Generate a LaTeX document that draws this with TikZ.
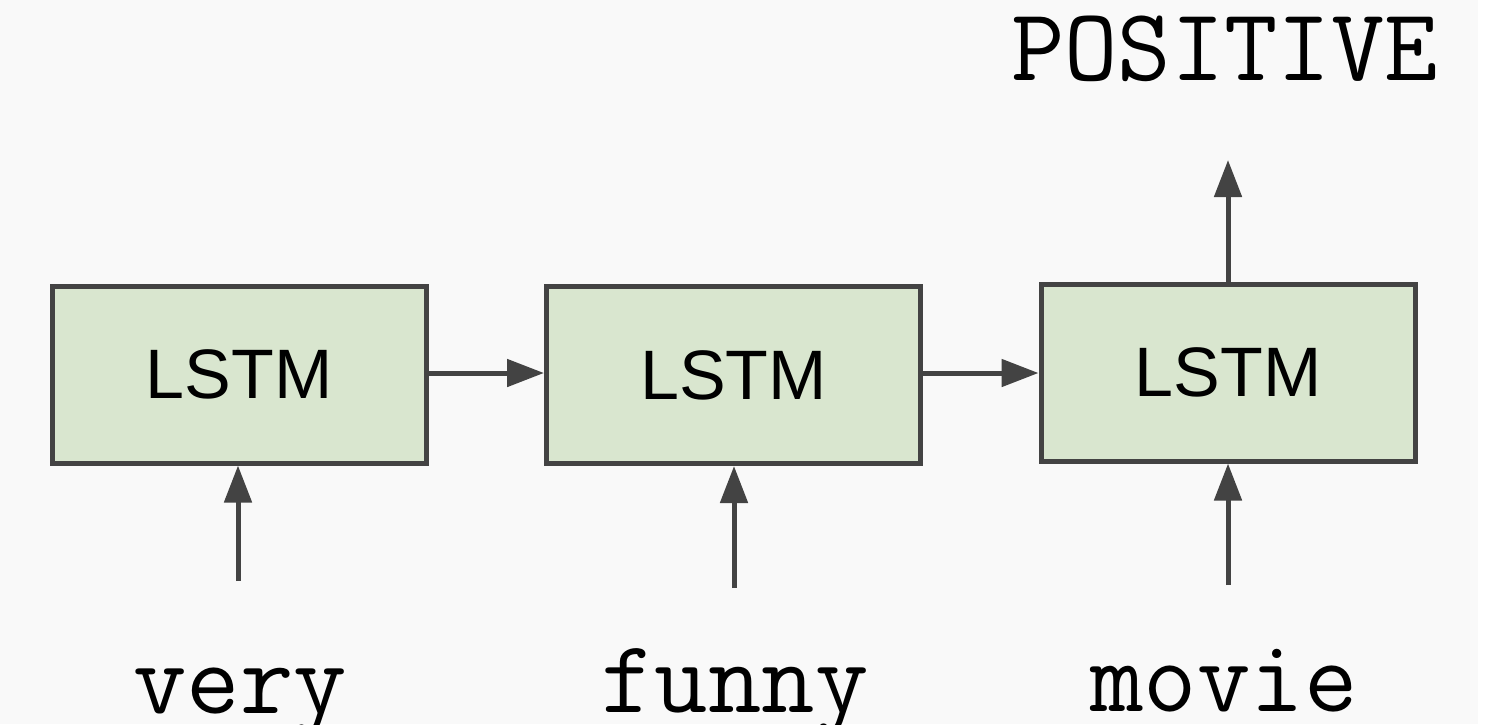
\documentclass[tikz,border=0pt]{standalone}
\usepackage{fontspec}
\setmainfont{Liberation Sans}
\usetikzlibrary{arrows.meta}
\definecolor{bg}{HTML}{F9F9F9}
\definecolor{boxfill}{HTML}{D9E6CF}
\definecolor{edge}{HTML}{434343}
\tikzset{
  lstm/.style={draw=edge, line width=2.5pt, fill=boxfill, rectangle,
    minimum width=187pt, minimum height=88.5pt, inner sep=0pt,
    font=\fontsize{35}{42}\selectfont},
  word/.style={anchor=base, inner sep=0pt, font=\ttfamily\fontsize{51.8}{56}\selectfont},
  conn/.style={draw=edge, line width=2.5pt, -{Triangle[length=18.5pt,width=13.5pt]}}
}
\begin{document}
\begin{tikzpicture}[x=0.5pt,y=-0.5pt]
\useasboundingbox (0,0) rectangle (1491,724);
\fill[white] (0,0) rectangle (1491,724);
\fill[bg] (0,0) rectangle (1478,724);
\node[lstm] (b1) at (239,374.5) {LSTM};
\node[lstm] (b2) at (733.5,375) {LSTM};
\node[lstm] (b3) at (1228,372.5) {LSTM};
\node[word] (w1) at (240,713) {very};
\node[word] (w2) at (735,712) {funny};
\node[word] (w3) at (1224,711) {movie};
\node[word] (pos) at (1224.5,80) {POSITIVE};
\coordinate (v1) at (238,581);
\coordinate (v2) at (734,588);
\coordinate (v3) at (1228,585);
\coordinate (top) at (1228,160);
\draw[conn] (b1.east |- 0,373) -- (b2.west |- 0,373);
\draw[conn] (b2.east |- 0,373) -- (b3.west |- 0,373);
\draw[conn] (v1) -- (v1 |- b1.south);
\draw[conn] (v2) -- (v2 |- b2.south);
\draw[conn] (v3) -- (v3 |- b3.south);
\draw[conn] (b3.north) -- (top);
\end{tikzpicture}
\end{document}
